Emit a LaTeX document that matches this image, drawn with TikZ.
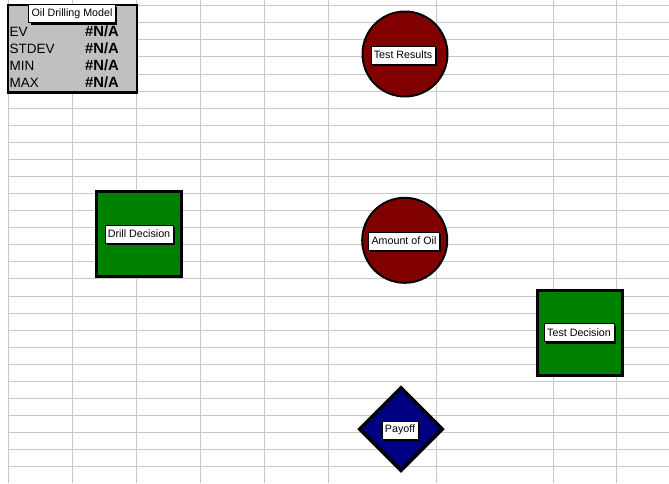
\documentclass[tikz,border=0pt]{standalone}
\usepackage{fontspec}
\setmainfont{Liberation Sans}
\usetikzlibrary{shapes.geometric,shadows}
\definecolor{gridgray}{HTML}{C8C8C8}
\definecolor{boxgray}{HTML}{C0C0C0}
\definecolor{chancered}{HTML}{800000}
\definecolor{decisiongreen}{HTML}{008000}
\definecolor{payoffblue}{HTML}{000080}
\tikzset{
	lbl/.style={draw=black, line width=0.4pt, fill=white, inner xsep=3pt, inner ysep=0pt,
		minimum height=18pt, font=\fontsize{10.7}{12}\selectfont,
		drop shadow={shadow xshift=2pt, shadow yshift=-2pt, fill=black, opacity=1}},
	chance/.style={circle, draw=black, line width=2pt, fill=chancered, minimum size=85pt, inner sep=0pt},
	decision/.style={rectangle, draw=black, line width=3pt, fill=decisiongreen, minimum size=85pt, inner sep=0pt},
	payoffnode/.style={diamond, draw=black, line width=3.5pt, fill=payoffblue, minimum size=84pt, inner sep=0pt},
	rowtext/.style={anchor=west, inner sep=0pt, font=\fontsize{13.5}{14}\selectfont},
	rowval/.style={anchor=west, inner sep=0pt, font=\fontsize{14.8}{15}\selectfont\bfseries}
}
\begin{document}
\begin{tikzpicture}[x=1pt, y=-1pt]
	\useasboundingbox[fill=white] (0, 0) rectangle (669, 483);
	
	% sheet grid
	\foreach \gx in {8.5, 72.5, 136.5, 200.5, 264.5, 328.5, 436, 553, 616.5}
		\draw[gridgray, line width=1pt] (\gx, 0) -- (\gx, 483);
	\foreach \k in {0, ..., 27}
		\draw[gridgray, line width=1pt] (8.5, 5.7+17.08*\k) -- (669, 5.7+17.08*\k);
	
	% summary box
	\draw[fill=boxgray, line width=2.5pt] (8, 5) rectangle (137, 92.5);
	\node[lbl] (title) at (72, 13.5) {Oil Drilling Model};
	\node[rowtext] (ev) at (9.5, 31.5) {EV};
	\node[rowtext] (stdev) at (9.5, 48.5) {STDEV};
	\node[rowtext] (min) at (9.5, 65.5) {MIN};
	\node[rowtext] (max) at (9.5, 82.5) {MAX};
	\node[rowval] (evval) at (85, 31.5) {\#N/A};
	\node[rowval] (stdevval) at (85, 48.5) {\#N/A};
	\node[rowval] (minval) at (85, 65.5) {\#N/A};
	\node[rowval] (maxval) at (85, 82.5) {\#N/A};
	
	% model nodes
	\node[chance] (testres) at (405, 54) {};
	\node[lbl] (testreslbl) at (403, 55) {Test Results};
	
	\node[chance] (oil) at (404.7, 240.3) {};
	\node[lbl] (oillbl) at (404, 241) {Amount of Oil};
	
	\node[decision] (drill) at (139.2, 233.8) {};
	\node[lbl] (drilllbl) at (139, 234) {Drill Decision};
	
	\node[decision] (testdec) at (579.7, 332.8) {};
	\node[lbl] (testdeclbl) at (579, 332.5) {Test Decision};
	
	\node[payoffnode] (payoff) at (401, 429) {};
	\node[lbl] (payofflbl) at (400, 430) {Payoff};
\end{tikzpicture}
\end{document}
